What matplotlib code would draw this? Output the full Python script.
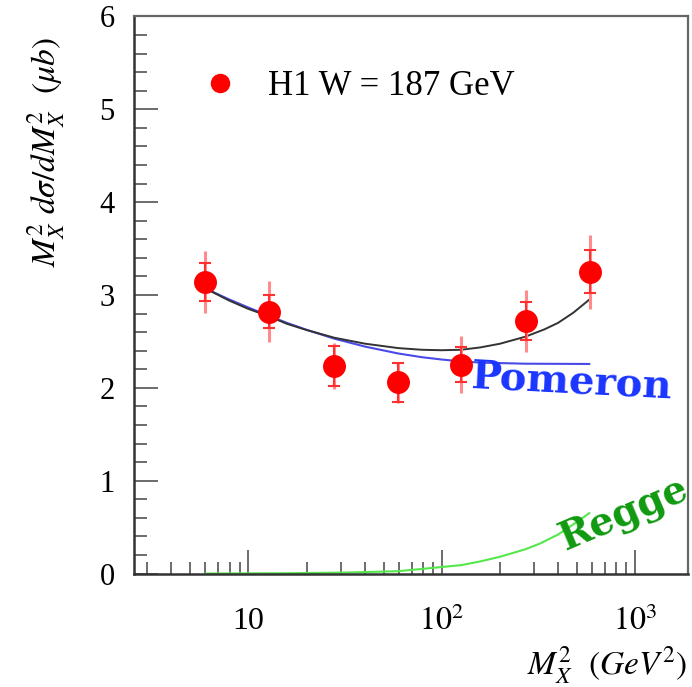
import matplotlib
matplotlib.use("Agg")
import matplotlib.pyplot as plt
from matplotlib.ticker import FixedLocator, LogLocator, MultipleLocator, NullFormatter

plt.rcParams['mathtext.fontset'] = 'stix'
plt.rcParams['font.family'] = ['Liberation Serif', 'DejaVu Serif']

# H1 data points, W = 187 GeV
mx2 = [6.0, 12.8, 27.8, 59.6, 126, 272, 586]
xsec = [3.14, 2.82, 2.235, 2.06, 2.25, 2.72, 3.25]
stat_err = [0.20, 0.18, 0.22, 0.21, 0.19, 0.20, 0.23]
tot_err = [0.335, 0.33, 0.25, 0.22, 0.31, 0.33, 0.40]

# fit curves
total_x = [6.0, 7.9, 10, 12.8, 15.8, 20, 27.8, 40, 59.6, 79, 100, 126, 158, 200, 270, 340, 400, 480, 580]
total_y = [3.07, 2.943, 2.85, 2.77, 2.69, 2.623, 2.54, 2.476, 2.428, 2.41, 2.405, 2.41, 2.435, 2.475, 2.55, 2.63, 2.70, 2.81, 2.95]

pom_x = [6.0, 7.9, 10, 12.8, 15.8, 20, 27.8, 40, 59.6, 79, 100, 126, 158, 270, 580]
pom_y = [3.07, 2.955, 2.865, 2.775, 2.70, 2.625, 2.53, 2.445, 2.37, 2.33, 2.305, 2.285, 2.272, 2.26, 2.257]

reg_x = [6.0, 15.8, 31.6, 59.6, 100, 126, 158, 200, 270, 324, 400, 480, 580]
reg_y = [0.0, 0.003, 0.01, 0.025, 0.07, 0.09, 0.13, 0.18, 0.26, 0.325, 0.42, 0.53, 0.65]

fig = plt.figure(figsize=(6.92, 6.87), dpi=100)
ax = fig.add_axes([0.1936, 0.1652, 0.8006, 0.8108])

ax.plot(reg_x, reg_y, color='#55e84a', lw=1.5, zorder=2)
ax.plot(pom_x, pom_y, color='#4a4ae8', lw=1.5, zorder=2)
ax.plot(total_x, total_y, color='#333333', lw=1.4, zorder=3)

# total errors (light) then statistical errors with caps
ax.errorbar(mx2, xsec, yerr=tot_err, fmt='none', ecolor='#ff8c8c', elinewidth=2.2, zorder=4)
ax.errorbar(mx2, xsec, yerr=stat_err, fmt='o', color='#ff0000', ms=15.5, mec='#ff0000',
            ecolor='#ff3030', elinewidth=1.5, capsize=4.5, capthick=1.5, zorder=5)

ax.set_xscale('log')
ax.set_xlim(2.56, 1879)
ax.set_ylim(0, 6)

ax.xaxis.set_major_locator(FixedLocator([10, 100, 1000]))
ax.xaxis.set_minor_locator(LogLocator(base=10, subs=range(2, 10)))
ax.xaxis.set_minor_formatter(NullFormatter())
ax.set_xticklabels(['10', r'$10^{2}$', r'$10^{3}$'])
ax.yaxis.set_major_locator(MultipleLocator(1))
ax.yaxis.set_minor_locator(MultipleLocator(0.2))

ax.tick_params(which='both', direction='in', top=False, right=False, color='#444444', width=1.1)
ax.tick_params(which='major', length=17)
ax.tick_params(which='minor', length=9)
ax.tick_params(axis='y', which='major', labelsize=22, pad=14)
ax.tick_params(axis='x', which='major', labelsize=23, pad=24)

for side in ['left', 'bottom']:
    ax.spines[side].set_linewidth(1.8)
    ax.spines[side].set_color('#333333')
for side in ['top', 'right']:
    ax.spines[side].set_linewidth(1.6)
    ax.spines[side].set_color('#666666')

ax.set_ylabel(r'$M_X^2\ d\sigma/dM_X^2\ \ (\mu b)$', fontsize=24)
ax.yaxis.set_label_coords(-0.121, 0.757)

fig.text(0.993, 0.032, r'$M_X^2\ \ (GeV^2)$', fontsize=24, ha='right', va='center')

# legend
ax.plot([0.155], [0.88], 'o', color='#ff0000', ms=13, transform=ax.transAxes, clip_on=False)
ax.text(0.2419, 0.859, 'H1 W = 187 GeV', fontsize=25, transform=ax.transAxes, va='baseline', ha='left')

ax.text(470, 2.066, 'Pomeron', color='#1a35ff', fontsize=29, family='DejaVu Serif', weight='bold',
        rotation=-3, ha='center', va='center', rotation_mode='anchor')
ax.text(870, 0.64, 'Regge', color='#109a10', fontsize=28, family='DejaVu Serif', weight='bold',
        rotation=23, ha='center', va='center', rotation_mode='anchor', clip_on=False)

fig.savefig('out.png', dpi=100)
